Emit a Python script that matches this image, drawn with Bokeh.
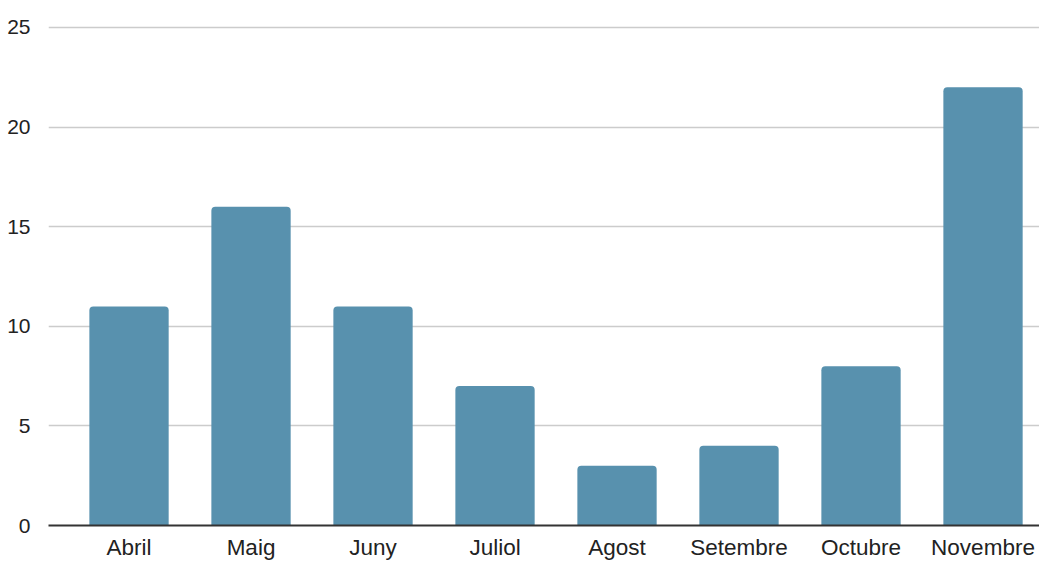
from bokeh.plotting import figure
from bokeh.models import Range1d, FixedTicker, ColumnDataSource
from bokeh.embed import file_html
from bokeh.resources import INLINE

months = ["Abril", "Maig", "Juny", "Juliol", "Agost", "Setembre", "Octubre", "Novembre"]
counts = [11, 16, 11, 7, 3, 4, 8, 22]
y_ticks = [0, 5, 10, 15, 20, 25]

idx = list(range(len(months)))
src = ColumnDataSource(dict(x=idx, top=counts))

p = figure(width=1039, height=562, output_backend="svg", toolbar_location=None,
           x_range=Range1d(-0.66, 7.463), y_range=Range1d(0, 25.1),
           min_border_left=48, min_border_right=0, min_border_top=25, min_border_bottom=20)
p.outline_line_color = None
p.background_fill_color = "white"
p.border_fill_color = "white"

p.vbar(x="x", top="top", bottom=0, width=0.65, source=src,
       fill_color="#5891ae", line_color=None, border_radius=(4, 4, 0, 0))

font = "Liberation Sans"
xa = p.xaxis[0]
xa.ticker = FixedTicker(ticks=idx)
xa.major_label_overrides = {i: m for i, m in zip(idx, months)}
xa.major_label_text_font = font
xa.major_label_text_font_size = "22.5px"
xa.major_label_text_color = "#222222"
xa.major_label_standoff = 3
xa.major_tick_line_color = None
xa.minor_tick_line_color = None
xa.axis_line_color = "#333333"
xa.axis_line_width = 2

ya = p.yaxis[0]
ya.ticker = FixedTicker(ticks=y_ticks)
ya.major_label_text_font = font
ya.major_label_text_font_size = "21px"
ya.major_label_text_color = "#222222"
ya.major_label_standoff = 12
ya.major_tick_line_color = None
ya.minor_tick_line_color = None
ya.axis_line_color = None

p.xgrid.grid_line_color = None
p.ygrid.ticker = FixedTicker(ticks=y_ticks[1:])
p.ygrid.grid_line_color = "#cccccc"
p.ygrid.grid_line_width = 1.5

open("out.html", "w").write(file_html(p, INLINE))
